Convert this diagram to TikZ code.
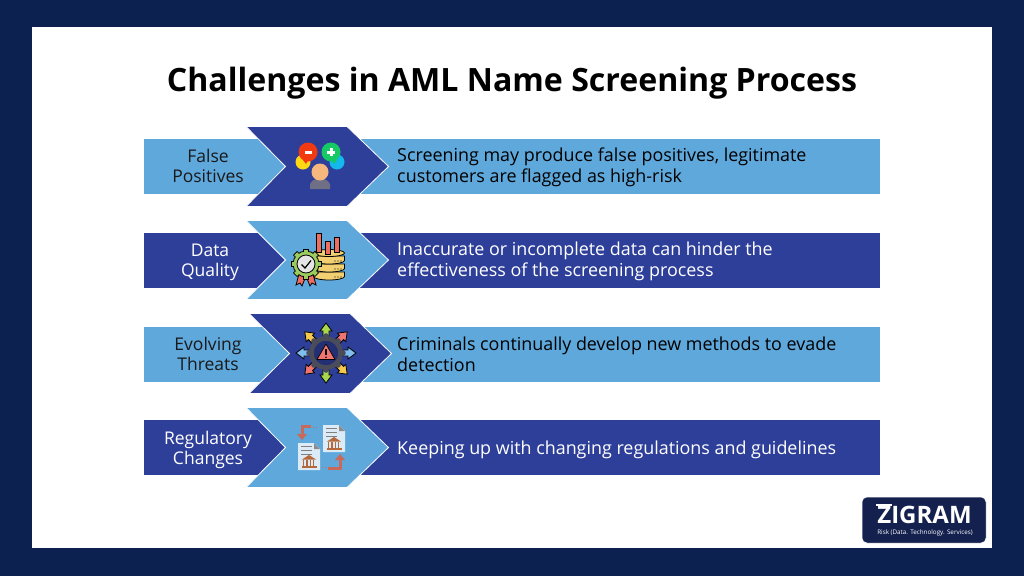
\documentclass[tikz,border=0pt]{standalone}
\usepackage{fontspec}
\setmainfont{Open Sans}
\definecolor{navy}{HTML}{0D2150}
\definecolor{lightband}{HTML}{5FA8DC}
\definecolor{darkband}{HTML}{2E3F9A}
\definecolor{logobg}{HTML}{14214F}
\definecolor{brick}{HTML}{C9695A}
\definecolor{bank}{HTML}{B5683A}
\definecolor{paper}{HTML}{DCEBF5}
\definecolor{gearleaf}{HTML}{9CCB5E}
\definecolor{dbgold}{HTML}{F2D071}
\definecolor{barred}{HTML}{EE6F62}
\definecolor{ringgrey}{HTML}{4B4C5A}
\definecolor{arrowblue}{HTML}{7FBDF0}
\definecolor{arrowred}{HTML}{EF7570}
\definecolor{arrowgreen}{HTML}{A9D84F}
\definecolor{arrowgold}{HTML}{F4C94C}
\definecolor{skin}{HTML}{F6B77F}
\definecolor{shirt}{HTML}{6F7085}
\definecolor{bubblered}{HTML}{F23A12}
\definecolor{bubblegreen}{HTML}{17C964}
\definecolor{bubbleyellow}{HTML}{FFD814}
\definecolor{bubblecyan}{HTML}{14B8EC}
\tikzset{
 chevron/.style={draw=white,line width=.8pt},
 sidelabel/.style={align=center,font=\fontsize{17.5}{20.5}\selectfont},
 bodytext/.style={anchor=west,align=left,font=\fontsize{17.9}{20.8}\selectfont},
 outline/.style={draw=black,line width=.8pt},
}
\begin{document}
\begin{tikzpicture}[x=1pt,y=-1pt]
\useasboundingbox (0,0) rectangle (1024,576);
\fill[navy] (0,0) rectangle (1024,576);
\fill[white] (32,27) rectangle (992,548);
\node (title) at (512,83) {\fontsize{32.1}{38}\selectfont\bfseries Challenges in AML Name Screening Process};
% bands
\fill[lightband] (144,139) rectangle (880,194);
\fill[darkband] (144,233) rectangle (880,288);
\fill[lightband] (144,327) rectangle (880,382);
\fill[darkband] (144,420) rectangle (880,475);
% chevrons
\draw[chevron,fill=darkband] (246,126.5)--(347,126.5)--(388.5,166.5)--(347,206.5)--(246,206.5)--(285.5,166.5)--cycle;
\draw[chevron,fill=lightband] (246,220.5)--(347,220.5)--(388.5,260)--(347,299.5)--(246,299.5)--(285.5,260)--cycle;
\draw[chevron,fill=darkband] (249,313.5)--(350,313.5)--(391.5,353.5)--(350,393.5)--(249,393.5)--(289.5,353.5)--cycle;
\draw[chevron,fill=lightband] (246,407.5)--(347,407.5)--(388.5,447.5)--(347,487.5)--(246,487.5)--(285.5,447.5)--cycle;
% side labels
\node[sidelabel,text=black!90] (falselabel) at (208,166) {False\\Positives};
\node[sidelabel,text=white] (datalabel) at (210,262.5) {Data\\Quality};
\node[sidelabel,text=black!90] (threatlabel) at (208,354) {Evolving\\Threats};
\node[sidelabel,text=white] (reglabel) at (208,450) {Regulatory\\Changes};
% body text
\node[bodytext,text=black] (falsetext) at (393.7,167.5) {Screening may produce false positives, legitimate\\customers are flagged as high-risk};
\node[bodytext,text=white] (datatext) at (393.7,261.5) {Inaccurate or incomplete data can hinder the\\effectiveness of the screening process};
\node[bodytext,text=black] (threattext) at (393.7,354) {Criminals continually develop new methods to evade\\detection};
\node[bodytext,text=white] (regtext) at (393.7,450) {Keeping up with changing regulations and guidelines};
% icon: people
\fill[bubbleyellow] (303,162) circle (7.5);
\fill[bubblecyan] (337,162) circle (7.5);
\fill[bubblered] (308,152) circle (9.5);
\fill[bubblered] (303,160)--(309,158)--(306,164)--cycle;
\fill[bubblegreen] (331,152) circle (9.5);
\fill[bubblegreen] (337,160)--(331,158)--(334,164)--cycle;
\fill[white] (304.5,151) rectangle (311.5,153.5);
\fill[white] (327,150.5) rectangle (335,153.5);
\fill[white] (329.5,148) rectangle (332.5,156);
\fill[shirt] (310,189) -- (310,185) arc (180:360:10 and 6.5) -- (330,189) -- cycle;
\fill[skin] (320,172) circle (8.5);
% icon: data quality
\foreach \y in {272,264,256}{
 \draw[outline,fill=dbgold] (313.5,\y) -- (313.5,\y+4.5) arc (180:360:15.5 and -3.5) -- (344.5,\y) -- cycle;
}
\draw[outline,fill=dbgold] (329,253) ellipse (15.5 and 3.5);
\draw[outline,fill=barred] (316,252) rectangle (321,233);
\draw[outline,fill=barred] (325,254) rectangle (330,241);
\draw[outline,fill=barred] (334,252) rectangle (339,237);
\foreach \x in {335,338,341}{
 \fill[black] (\x,261) circle (.7);
 \fill[black] (\x,269) circle (.7);
 \fill[black] (\x,277) circle (.7);
}
\draw[outline,fill=barred] (299,274) -- (296,285) -- (300,283) -- (302,286) -- (306,276) -- cycle;
\draw[outline,fill=barred] (313,274) -- (316,285) -- (312,283) -- (310,286) -- (306,276) -- cycle;
\foreach \a in {0,45,...,135}{
 \draw[outline,fill=gearleaf,rotate around={\a:(306,264)}] (291,261.5) rectangle (321,266.5);
}
\draw[outline,fill=gearleaf] (306,264) circle (13);
\foreach \a in {0,45,...,135}{
 \fill[gearleaf,rotate around={\a:(306,264)}] (291.5,262) rectangle (320.5,266);
}
\draw[outline,fill=black!10] (306,264) circle (9);
\draw[black,line width=1.2pt] (301.5,264.5)--(305,268)--(311,260.5);
% icon: threats
\foreach \a/\c in {0/arrowblue,45/arrowred,90/arrowgreen,135/arrowgold,180/arrowblue,225/arrowred,270/arrowgreen,315/arrowgold}{
 \draw[outline,fill=\c,rotate around={\a:(326,353)}] (343,350) -- (348,350) -- (348,347) -- (356,353) -- (348,359) -- (348,356) -- (343,356) -- cycle;
}
\foreach \a in {0,45,...,315}{
 \fill[ringgrey] (326,353) ++(\a:17) circle (2.8);
}
\draw[ringgrey,line width=4.5pt,fill=darkband!75!black] (326,353) circle (14.5);
\draw[black,line join=round,line width=.7pt,fill=arrowred] (326,344)--(335,359.5)--(317,359.5)--cycle;
\fill[black] (325.2,349) rectangle (326.8,355);
\fill[black] (326,357.3) circle (.9);
% icon: regulatory
\draw[brick,line width=3pt] (311,426)--(302,426)--(302,435);
\fill[brick] (297,434)--(307,434)--(302,440)--cycle;
\draw[brick,line width=1pt,dotted] (313,427)--(318,427);
\draw[brick,line width=3pt] (328,468)--(340,468)--(340,459);
\fill[brick] (335,460)--(345,460)--(340,454)--cycle;
\draw[brick,line width=1pt,dotted] (326,467)--(322,467);
\foreach \x/\y in {323/425,298/443}{
 \begin{scope}[shift={(\x,\y)}]
 \fill[paper] (0,0)--(16,0)--(22,6)--(22,27)--(0,27)--cycle;
 \fill[black!45] (16,0)--(22,6)--(16,6)--cycle;
 \foreach \yy in {3,7,11}{
  \draw[black!50,line width=.9pt] (3,\yy)--(14,\yy);
 }
 \fill[bank] (11,12)--(18,16.5)--(4,16.5)--cycle;
 \foreach \xx in {6,9.5,13,16}{
  \draw[bank,line width=1.1pt] (\xx-.5,17)--(\xx-.5,22.5);
 }
 \fill[bank] (3.5,23) rectangle (18.5,25);
 \end{scope}
}
% logo
\filldraw[fill=logobg,draw=white,line width=.5pt,rounded corners=5pt] (862,497) rectangle (986,543);
\node[text=white] (logoname) at (924.5,515) {\fontsize{24}{26}\selectfont\bfseries ZIGRAM};
\draw[white,line width=1.3pt] (876,505)--(892,505);
\node[text=white!75] (logotag) at (925,532.5) {\fontsize{6.3}{8}\selectfont Risk (Data. Technology. Services)};
\end{tikzpicture}
\end{document}
